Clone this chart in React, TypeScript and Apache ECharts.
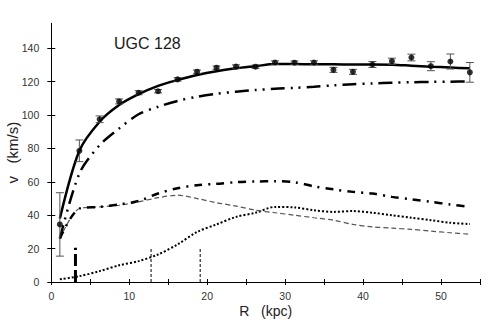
import React, { useEffect, useRef } from "react";
import * as echarts from "echarts";

// Radii (kpc)
const radii = [1.1, 3.6, 6.2, 8.7, 11.2, 13.7, 16.2, 18.7, 21.2, 23.7, 26.2, 28.7, 31.2, 33.7, 36.2, 38.7, 41.2, 43.7, 46.2, 48.7, 51.2, 53.7];
// Observed rotation velocities (km/s) and errors
const vObs = [34.5, 78.6, 97.5, 108.2, 113.4, 114.3, 121.4, 126.0, 128.4, 129.1, 129.0, 131.5, 131.4, 131.5, 127.1, 125.9, 130.3, 132.3, 134.5, 129.3, 132.1, 125.6];
const vErr = [19, 6.5, 2, 1.5, 1.2, 1, 1, 1, 1, 1, 1, 1, 1, 1, 1.5, 1.5, 1.8, 1.8, 2, 2.7, 4.5, 5.9];
// Model curves
const vTotal = [38, 78.6, 96, 106, 112.5, 117.5, 121, 124, 126.3, 128, 129.3, 130.6, 130.6, 130.4, 130.4, 130.3, 130.3, 130.2, 129.6, 129, 128.5, 128];
const vDashDotLong = [26, 65, 82, 92, 100.5, 105, 108.5, 111, 112.8, 114, 115, 115.8, 116.3, 117, 117.8, 118.5, 119, 119.4, 119.7, 119.9, 120, 120.2];
const vDashDotMid = [26, 44, 45, 46.5, 48.5, 53, 56.2, 58, 58.8, 59.8, 60.2, 60.4, 59.8, 57.3, 55.5, 54, 53, 51, 49.5, 48, 46.5, 45];
const vDashed = [26, 44, 45, 46, 48, 50.5, 52, 50, 47.5, 45.5, 43, 41.5, 40, 38.5, 37, 34.5, 33, 32.3, 31.5, 30.5, 29.5, 28.6];
const vDotted = [1.6, 3.5, 6.5, 10, 12.5, 16.5, 22.5, 30, 34.5, 39, 41.5, 45, 44.7, 43, 42, 42.5, 41.5, 40, 38.5, 37, 35.5, 34.7];
// Vertical markers
const markerR = [3.1, 12.8, 19.1];
const markerTop = [20.5, 20.5, 20];
// Tick labels
const xLabels = [0, 10, 20, 30, 40, 50];
const yTicks = [0, 20, 40, 60, 80, 100, 120, 140];

const pairs = (ys: number[]) => radii.map((r, i) => [r, ys[i]]);

export default function App() {
  const ref = useRef<HTMLDivElement>(null);
  useEffect(() => {
    if (!ref.current) return;
    const chart = echarts.init(ref.current, undefined, { renderer: "svg" });
    const font = "Liberation Sans, Arial, sans-serif";
    const lineSeries = (ys: number[], width: number, type: any, color = "#000", smooth: any = 0.3) => ({
      type: "line",
      data: pairs(ys),
      showSymbol: false,
      symbol: "none",
      smooth,
      lineStyle: { color, width, type, cap: "butt" },
      z: 2,
    });
    const markerSeries = (i: number, width: number, type: any) => ({
      type: "line",
      data: [[markerR[i], 0], [markerR[i], markerTop[i]]],
      symbol: "none",
      lineStyle: { color: "#000", width, type, cap: "butt" },
      z: 2,
    });
    chart.setOption({
      animation: false,
      title: {
        text: "UGC 128",
        left: 109,
        top: 30,
        textStyle: { fontFamily: font, fontSize: 16, fontWeight: "normal", color: "#1a1a1a" },
      },
      grid: { left: 51.3, right: 15, top: 23.3, bottom: 41, containLabel: false, outerBoundsMode: "none" },
      xAxis: [
        {
          type: "value",
          min: 0,
          max: 55,
          interval: 5,
          name: "R   (kpc)",
          nameLocation: "middle",
          nameGap: 22,
          nameMoveOverlap: false,
          nameTextStyle: { fontFamily: font, fontSize: 14, color: "#222" },
          axisLine: { lineStyle: { color: "#000", width: 1 } },
          axisTick: { inside: false, length: 3, lineStyle: { color: "#000" } },
          axisLabel: { customValues: xLabels, fontFamily: font, fontSize: 10.5, color: "#333", margin: 8 },
          splitLine: { show: false },
        },
        {
          type: "value",
          min: 0,
          max: 55,
          interval: 5,
          position: "bottom",
          axisLine: { show: false },
          axisTick: { inside: true, length: 3, lineStyle: { color: "#000" } },
          axisLabel: { show: false },
          splitLine: { show: false },
        },
      ],
      yAxis: [
        {
          type: "value",
          min: 0,
          max: 155,
          interval: 20,
          name: "v   (km/s)",
          nameLocation: "middle",
          nameGap: 31,
          nameMoveOverlap: false,
          nameTextStyle: { fontFamily: font, fontSize: 15, color: "#222" },
          axisLine: { show: true, lineStyle: { color: "#000", width: 1 } },
          axisTick: { show: true, customValues: yTicks, inside: false, length: 4, lineStyle: { color: "#000" } },
          axisLabel: { customValues: yTicks, fontFamily: font, fontSize: 10.5, color: "#333", margin: 12 },
          splitLine: { show: false },
        },
        {
          type: "value",
          min: 0,
          max: 155,
          interval: 20,
          position: "left",
          axisLine: { show: false },
          axisTick: { show: true, customValues: yTicks, inside: true, length: 4, lineStyle: { color: "#000" } },
          axisLabel: { show: false },
          splitLine: { show: false },
        },
      ],
      series: [
        lineSeries(vDotted, 2, [2, 2]),
        lineSeries(vDashed, 1.2, [5, 3], "#555"),
        lineSeries(vDashDotMid, 2.5, [8, 6, 2, 6]),
        lineSeries(vDashDotLong, 2.5, [14, 6, 2, 6, 2, 6]),
        lineSeries(vTotal, 2.5, "solid"),
        markerSeries(0, 3, [12, 4]),
        markerSeries(1, 1, [3, 2]),
        markerSeries(2, 1, [3, 2]),
        {
          type: "custom",
          data: radii.map((r, i) => [r, vObs[i] - vErr[i], vObs[i] + vErr[i]]),
          z: 3,
          renderItem: (params: any, api: any) => {
            const x = api.value(0);
            const lo = api.coord([x, api.value(1)]);
            const hi = api.coord([x, api.value(2)]);
            const w = 4;
            const st = { stroke: "#555", lineWidth: 1 };
            return {
              type: "group",
              children: [
                { type: "line", shape: { x1: lo[0], y1: lo[1], x2: hi[0], y2: hi[1] }, style: st },
                { type: "line", shape: { x1: lo[0] - w, y1: lo[1], x2: lo[0] + w, y2: lo[1] }, style: st },
                { type: "line", shape: { x1: hi[0] - w, y1: hi[1], x2: hi[0] + w, y2: hi[1] }, style: st },
              ],
            };
          },
        },
        {
          type: "scatter",
          data: pairs(vObs),
          symbol: "circle",
          symbolSize: 6,
          itemStyle: { color: "#000" },
          z: 4,
        },
      ],
    });
    return () => chart.dispose();
  }, []);
  return <div ref={ref} style={{ position: "absolute", left: 0, top: 0, width: 495, height: 323 }} />;
}
